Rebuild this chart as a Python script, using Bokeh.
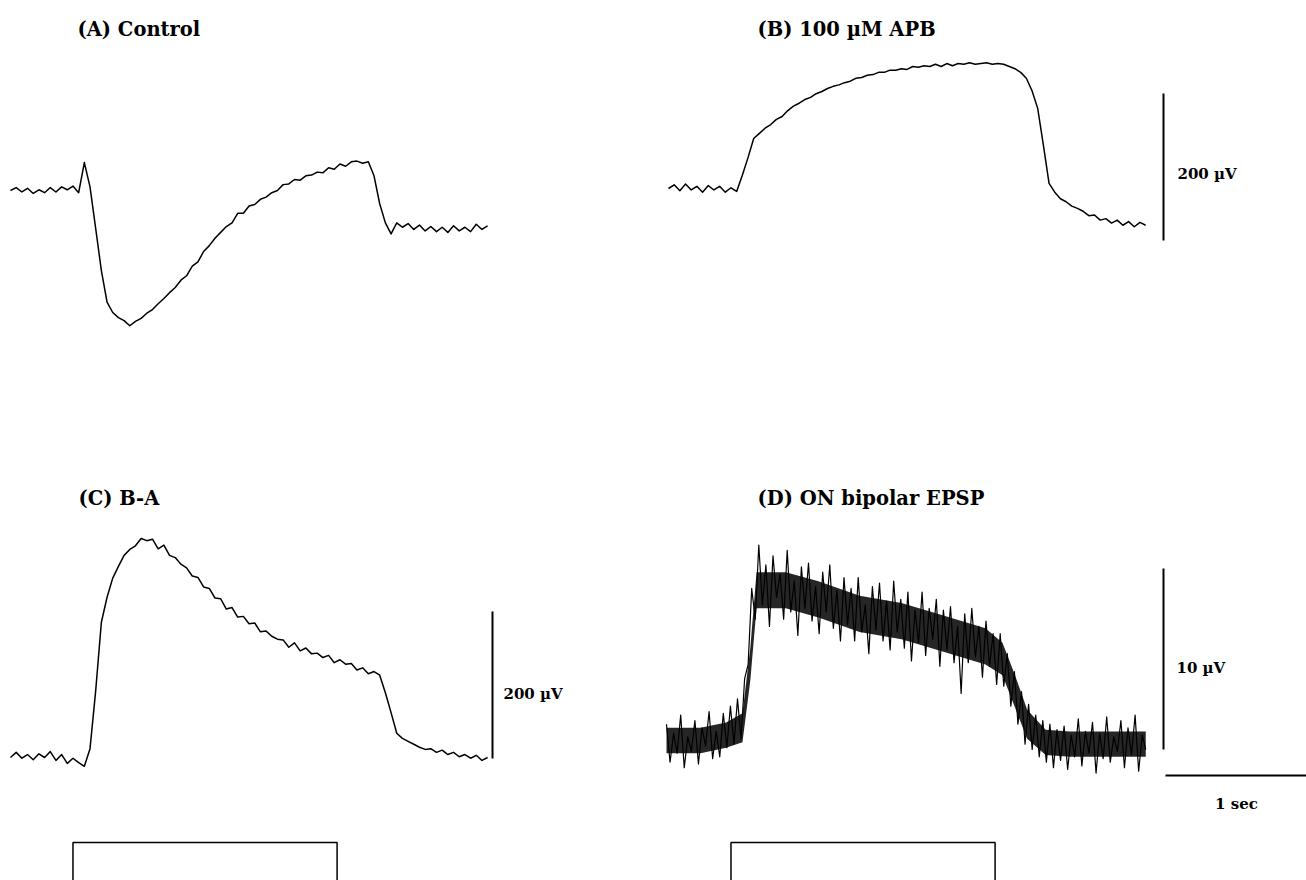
import numpy as np
from bokeh.plotting import figure
from bokeh.models import Range1d, Label
from bokeh.layouts import column, row
from bokeh.embed import file_html
from bokeh.resources import INLINE

# ---------------- data (time in s, potential in µV, relative to baseline) -------------
DT = 0.04      # sampling step of traces A, B, C (s)
DT_D = 0.025   # sampling step of trace D (s)

A_uV = [0, 4, -2, 3, -4, 1, -3, 4, -2, 5, 1, 6, -3, 38, 5, -52, -109, -152, -166, -173,
        -177, -184, -178, -174, -167, -162, -154, -147, -139, -132, -122, -116, -103, -97,
        -83, -75, -65, -57, -49, -44, -31, -31, -21, -19, -12, -9, -3, 0, 8, 9, 15, 14,
        20, 21, 25, 24, 31, 29, 36, 33, 39, 40, 37, 39, 20, -18, -44, -59,
        -44, -50, -45, -53, -47, -55, -49, -56, -50, -57, -48, -55, -50, -56, -46, -53, -48]

B_uV = [0, 5, -3, 6, -2, 3, -5, 4, -2, 3, -5, 1, -4, 18, 42, 68, 75, 82, 87, 94, 98,
        106, 112, 116, 121, 124, 129, 132, 136, 139, 141, 144, 146, 150, 151, 154, 155,
        158, 158, 161, 161, 163, 162, 166, 165, 167, 166, 169, 166, 170, 167, 170, 169,
        171, 169, 170, 171, 169, 170, 169, 166, 163, 158, 150, 133, 109, 59, 7,
        -5, -14, -18, -24, -27, -31, -37, -36, -43, -41, -47, -43, -50, -45, -52, -46, -50]

C_uV = [0, 7, -1, 4, -3, 5, 0, 8, -4, 4, -8, -1, -7, -12, 12, 91, 184, 218, 244, 260,
        275, 283, 288, 298, 295, 297, 284, 289, 275, 272, 263, 258, 247, 245, 232, 230,
        217, 216, 202, 204, 191, 192, 182, 183, 171, 172, 165, 161, 160, 150, 156, 145,
        149, 141, 142, 136, 139, 129, 133, 127, 128, 119, 122, 114, 117, 112, 88, 61, 33,
        26, 22, 18, 14, 11, 12, 7, 10, 4, 7, 1, 4, -1, 3, -4, 0]

D_uV = [0.9, -1.2, 0.4, -0.7, 1.4, -1.5, 0.2, -0.6, 1.1, -1.3, 0.7, -0.3, 1.6, -1.0,
        0.5, -0.9, 1.5, -0.4, 1.9, -0.2, 2.3, 0.1,
        3.4, 4.2, 8.4, 6.7, 10.8, 7.5, 9.7, 6.3, 10.2, 7.9, 9.2, 6.7, 10.5, 7.1, 8.8, 5.8,
        9.6, 7.3, 9.8, 6.6, 8.5, 5.9, 9.3, 7.1, 9.7, 6.2, 8.3, 5.5, 9.0, 6.4, 8.4, 5.5,
        9.0, 6.0, 7.5, 4.8, 8.5, 6.1, 8.7, 5.5, 7.7, 5.0, 8.8, 6.0, 7.8, 5.1, 8.2, 4.4,
        7.2, 5.4, 8.2, 4.7, 7.3, 5.6, 7.8, 4.1, 7.2, 5.0, 7.4, 4.3, 6.3, 2.6, 7.0, 4.3,
        7.3, 4.6, 6.3, 3.5, 6.6, 4.1, 5.9, 3.1, 5.9, 3.0, 4.8, 1.9, 3.8, 0.9, 2.7, -0.2,
        2.0, -0.5, 1.4, -0.9, 1.1, -1.2, 0.9, -1.5, 0.6, -1.1, 0.8, -1.6, 0.3, -0.9, 1.2,
        -1.4, 0.5, -0.7, 1.0, -1.8, 0.4, -1.0, 1.3, -1.2, 0.2, -0.6, 1.1, -1.5, 0.7, -0.8,
        1.4, -1.7, 0.3, -0.5]

# dense core of the noisy trace D (envelope)
D_CORE_T = [0.0, 0.24, 0.42, 0.535, 0.59, 0.634, 0.84, 1.07, 1.36, 1.655, 1.95, 2.246,
            2.366, 2.45, 2.54, 2.67, 2.84, 3.13, 3.375]
D_CORE_HI = [0.7, 0.7, 1.0, 1.5, 5.1, 9.3, 9.3, 8.8, 8.0, 7.6, 6.9, 6.2, 5.4, 3.7, 1.7,
             0.6, 0.5, 0.5, 0.5]
D_CORE_LO = [-0.7, -0.7, -0.4, -0.1, 3.3, 7.3, 7.3, 6.8, 6.0, 5.6, 4.9, 4.2, 3.6, 1.9, 0.1,
             -0.8, -0.9, -0.9, -0.9]

STIM_ON = 0.44     # s
STIM_OFF = 2.30    # s
STIM_T = [0.0, STIM_ON, STIM_ON, STIM_OFF, STIM_OFF, 3.38]
STIM_V = [0, 0, 1, 1, 0, 0]

TITLES = ["(A)  Control", "(B)  100 \u00b5M APB", "(C)  B-A", "(D)  ON bipolar EPSP"]
SCALE_UV_BIG = 200
SCALE_UV_SMALL = 10
SCALE_S = 1
LABEL_BIG = "200 \u00b5V"
LABEL_SMALL = "10 \u00b5V"
LABEL_TIME = "1 sec"

# ---------------- layout constants (pixels) -------------
SX = 142.0          # px per second
SY_AC = 0.735       # px per µV (A, B, C)
SY_D = 18.1         # px per µV (D)
SY_STIM = 40.0      # px per stimulus unit
FONT = "DejaVu Serif"


def panel(w, h, x0, y0, sx, sy):
    p = figure(width=w, height=h,
               x_range=Range1d(-x0 / sx, (w - x0) / sx),
               y_range=Range1d(-(h - y0) / sy, y0 / sy),
               output_backend="svg", toolbar_location=None,
               x_axis_location=None, y_axis_location=None,
               min_border=0, outline_line_color=None,
               background_fill_color="white", border_fill_color="white")
    p.grid.grid_line_color = None
    p._sx, p._sy = sx, sy
    return p


def at(p, px, py):
    return p.x_range.start + px / p._sx, p.y_range.end - py / p._sy


def title(p, px, py, text):
    x, y = at(p, px, py)
    p.add_layout(Label(x=x, y=y, text=text, text_font=FONT, text_font_style="bold",
                       text_font_size="19.5px", text_baseline="alphabetic",
                       text_align="left", text_color="black"))


def label(p, px, py, text, align="left"):
    x, y = at(p, px, py)
    p.add_layout(Label(x=x, y=y, text=text, text_font=FONT, text_font_style="bold",
                       text_font_size="15px", text_baseline="alphabetic",
                       text_align=align, text_color="black"))


def vbar(p, px, py_bottom, length):
    x, y = at(p, px, py_bottom)
    p.segment(x0=[x], y0=[y], x1=[x], y1=[y + length], line_width=2, line_color="black")


def trace(p, vals, dt, lw=1.5):
    t = np.arange(len(vals)) * dt
    p.line(t, vals, line_width=lw, line_color="black", line_join="round")


W = 653
pA = panel(W, 420, 10, 190, SX, SY_AC)
pB = panel(W, 420, 15, 188, SX, SY_AC)
pC = panel(W, 415, 10, 337, SX, SY_AC)
pD = panel(W, 415, 13, 320, SX, SY_D)
sL = panel(W, 45, 10, 47, SX, SY_STIM)
sR = panel(W, 45, 15, 47, SX, SY_STIM)

trace(pA, A_uV, DT)
trace(pB, B_uV, DT)
trace(pC, C_uV, DT)
pD.varea(x=D_CORE_T, y1=D_CORE_LO, y2=D_CORE_HI, fill_color="black", fill_alpha=0.85)
trace(pD, D_uV, DT_D, lw=1.2)

for s in (sL, sR):
    s.line(STIM_T, STIM_V, line_width=1.5, line_color="black")

title(pA, 77, 29, TITLES[0])
title(pB, 757 - W, 29, TITLES[1])
title(pC, 78, 78, TITLES[2])
title(pD, 757 - W, 78, TITLES[3])

# scale bars
vbar(pB, 510, 240, SCALE_UV_BIG)
label(pB, 524, 173, LABEL_BIG)
vbar(pC, 492, 338, SCALE_UV_BIG)
label(pC, 503, 273, LABEL_BIG)
vbar(pD, 510, 329, SCALE_UV_SMALL)
label(pD, 523, 247, LABEL_SMALL)
hx, hy = at(pD, 512, 355)
pD.segment(x0=[hx], y0=[hy], x1=[hx + SCALE_S], y1=[hy], line_width=2, line_color="black")
label(pD, 583, 383, LABEL_TIME, align="center")

layout = column(row(pA, pB, spacing=0), row(pC, pD, spacing=0), row(sL, sR, spacing=0), spacing=0)

open("out.html", "w").write(file_html(layout, INLINE))
